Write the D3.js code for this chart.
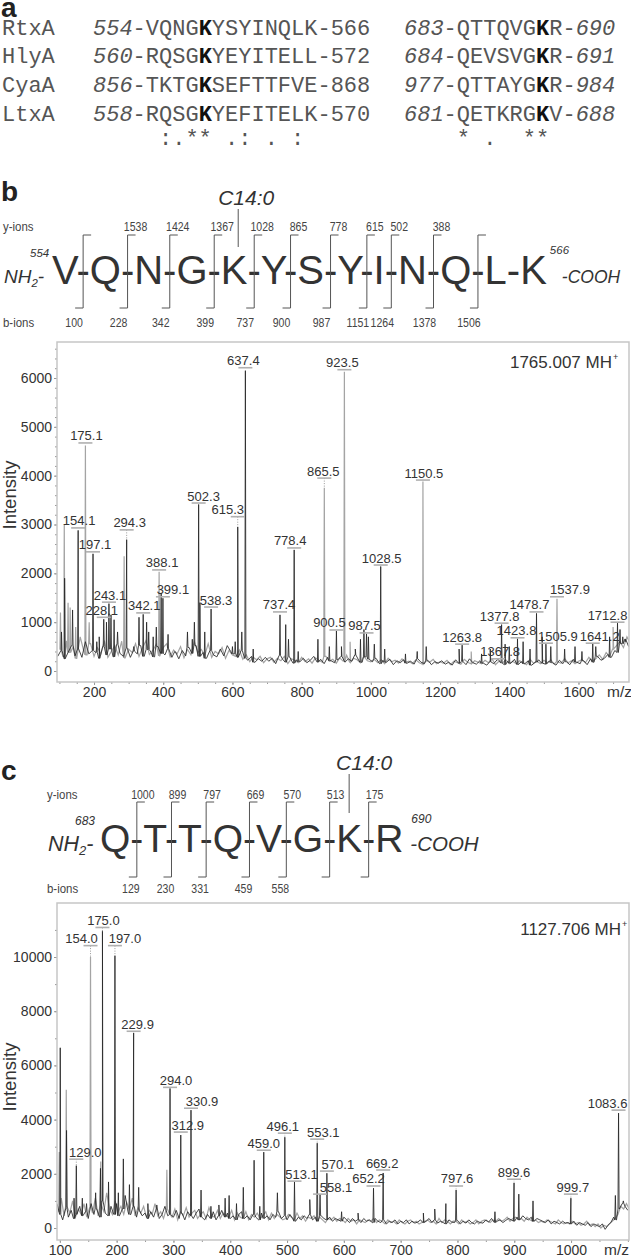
<!DOCTYPE html>
<meta charset="utf-8">
<style>
  body { margin: 0; background: #fff; }
</style>
<script src="https://d3js.org/d3.v7.min.js"></script>
<svg id="fig" width="631" height="1259" font-family="'Liberation Sans', Arial, sans-serif"></svg>
<script>

// ---- panel a : alignment ----
var proteins   = ["RtxA", "HlyA", "CyaA", "LtxA"];
var site1Start = [554, 560, 856, 558];
var site1Seq   = ["VQNGKYSYINQLK", "RQSGKYEYITELL", "TKTGKSEFTTFVE", "RQSGKYEFITELK"];
var site1End   = [566, 572, 868, 570];
var site2Start = [683, 684, 977, 681];
var site2Seq   = ["QTTQVGKR", "QEVSVGKR", "QTTAYGKR", "QETKRGKV"];
var site2End   = [690, 691, 984, 688];
var site1K = 4, site2K = 6;
var consensus1 = " :.** .: . :";
var consensus2 = "* .  **";

// ---- panel b : peptide 554-566 ----
var residuesB = ["V", "Q", "N", "G", "K", "Y", "S", "Y", "I", "N", "Q", "L", "K"];
var yIonsB = [null, 1538, 1424, 1367, 1028, 865, 778, 615, 502, 388, null];
var bIonsB = [100, 228, 342, 399, 737, 900, 987, 1151, 1264, 1378, 1506];

// spectrum b: [m/z, intensity, tone] tone 0 = dark trace, 1 = grey trace
var peaksB = [
  [103, 1200, 1], [106, 800, 0], [114, 3000, 1], [115, 1900, 0], [125, 1400, 1], [131, 1300, 1],
  [138, 1250, 0], [147, 900, 1], [154.1, 2880, 0], [175.1, 4620, 1], [186, 1000, 1], [197.1, 2400, 0],
  [208, 600, 0], [215, 700, 0], [228.1, 1060, 0], [236, 1000, 0], [243.1, 1380, 0], [249, 1150, 0],
  [258, 1050, 0], [268, 800, 0], [287, 2350, 1], [294.3, 2690, 0], [315, 500, 0], [330, 1100, 0],
  [342.1, 1160, 0], [352, 1000, 0], [358, 800, 0], [371, 700, 0], [380, 900, 0], [388.1, 2030, 1],
  [394, 1600, 0], [399.1, 1490, 0], [414, 750, 0], [434, 400, 0], [470, 800, 0], [484, 650, 0],
  [490, 1000, 0], [502.3, 3410, 0], [506, 1400, 0], [520, 800, 0], [538.3, 1270, 0], [600, 500, 0],
  [608, 600, 0], [615.3, 2950, 0], [627, 800, 0], [637.4, 6150, 0], [660, 450, 0], [737.4, 1150, 0],
  [754, 950, 0], [762, 650, 0], [778.4, 2480, 0], [790, 400, 0], [847, 650, 0], [865.5, 3750, 1],
  [880, 500, 0], [900.5, 820, 0], [915, 500, 0], [923.5, 6130, 1], [940, 600, 1], [955, 450, 0],
  [970, 650, 0], [980, 850, 0], [987.5, 760, 0], [993, 700, 0], [1010, 550, 0], [1028.5, 2140, 0],
  [1040, 450, 0], [1100, 350, 0], [1134, 400, 0], [1150.5, 3880, 1], [1160, 500, 0], [1255, 450, 0],
  [1263.8, 530, 0], [1290, 400, 1], [1320, 350, 0], [1345, 450, 0], [1367.8, 240, 0], [1377.8, 950, 0],
  [1388, 550, 0], [1400, 500, 0], [1423.8, 660, 0], [1440, 600, 0], [1460, 450, 0], [1478.7, 1180, 0],
  [1495, 700, 0], [1505.9, 550, 0], [1520, 500, 0], [1537.9, 1480, 1], [1560, 450, 0], [1590, 500, 0],
  [1610, 400, 0], [1641.2, 560, 0], [1650, 500, 0], [1690, 700, 0], [1700, 900, 1], [1712.8, 980, 0],
  [1720, 850, 0], [1728, 700, 0], [1735, 600, 0]
];
// labelled peaks: [m/z, label level, label shift px]
var labelsB = [
  [154.1, 2930, 1], [175.1, 4670, 1], [197.1, 2440, 2], [228.1, 1100, -2], [243.1, 1410, 1],
  [294.3, 2890, 3], [342.1, 1190, 1], [388.1, 2070, 3], [399.1, 1520, 10], [502.3, 3440, 5],
  [538.3, 1310, 5], [615.3, 3160, -10], [637.4, 6210, -2], [737.4, 1210, -1], [778.4, 2520, -4],
  [865.5, 3950, -1], [900.5, 840, -7], [923.5, 6170, -2], [987.5, 780, -2], [1028.5, 2170, 1],
  [1150.5, 3910, 1], [1263.8, 550, 0], [1367.8, 250, 2], [1377.8, 980, -2], [1423.8, 680, -1],
  [1478.7, 1210, -7], [1505.9, 570, 12], [1537.9, 1520, 13], [1641.2, 570, 7], [1712.8, 1000, -10]
];
// baseline noise b, dark trace m/z 95..1745 every 10
var noiseB = [
  300, 420, 250, 380, 520, 310, 450, 280, 600, 350, 420,
  380, 260, 500, 330, 450, 290, 540, 360, 300, 470,
  280, 410, 350, 520, 300, 440, 380, 290, 500, 360,
  330, 460, 280, 390, 250, 420, 310, 480, 360, 520,
  300, 380, 260, 420, 330, 290, 450, 310, 520, 400,
  350, 280, 420, 260, 220, 300, 180, 250, 200, 280,
  200, 260, 150, 320, 240, 180, 290, 160, 230, 190,
  260, 170, 220, 300, 180, 240, 150, 280, 210, 170,
  230, 300, 180, 250, 200, 330, 220, 180, 290, 240,
  190, 260, 150, 220, 180, 240, 130, 210, 170, 230,
  160, 200, 140, 250, 180, 150, 220, 130, 190, 160,
  210, 140, 180, 120, 230, 160, 200, 130, 250, 170,
  140, 210, 160, 120, 190, 150, 230, 170, 130, 200,
  160, 240, 130, 190, 150, 210, 120, 180, 230, 160,
  140, 200, 170, 120, 220, 150, 190, 130, 240, 180,
  150, 210, 130, 250, 180, 300, 220, 260, 340, 280,
  420, 380, 560, 650, 500
];
// baseline noise b, grey trace m/z 100..1750 every 10
var noiseB2 = [
  450, 300, 620, 380, 500, 260, 700, 420, 330, 560, 300,
  480, 350, 620, 280, 400, 520, 330, 610, 270, 450,
  380, 560, 300, 470, 620, 340, 420, 550, 310, 480,
  560, 290, 430, 350, 500, 270, 440, 330, 600, 380,
  440, 320, 560, 280, 400, 350, 480, 260, 420, 330,
  300, 430, 240, 330, 190, 280, 230, 300, 170, 250,
  280, 180, 260, 210, 300, 150, 250, 220, 170, 280,
  190, 250, 160, 270, 220, 180, 300, 200, 240, 160,
  270, 200, 320, 180, 260, 230, 170, 300, 210, 190,
  240, 170, 230, 150, 260, 190, 220, 160, 250, 180,
  200, 150, 230, 170, 140, 210, 180, 240, 150, 190,
  160, 220, 130, 200, 170, 140, 240, 180, 150, 210,
  180, 150, 220, 170, 250, 130, 200, 160, 230, 150,
  200, 150, 210, 170, 130, 240, 160, 200, 150, 220,
  170, 230, 140, 190, 160, 250, 170, 210, 150, 200,
  230, 170, 280, 200, 250, 330, 240, 380, 300, 450,
  520, 600, 480, 700, 560
];
var yTicksB = [0, 1000, 2000, 3000, 4000, 5000, 6000];
var xTicksB = [200, 400, 600, 800, 1000, 1200, 1400, 1600];

// ---- panel c : peptide 683-690 ----
var residuesC = ["Q", "T", "T", "Q", "V", "G", "K", "R"];
var yIonsC = [1000, 899, 797, 669, 570, 513, 175];
var bIonsC = [129, 230, 331, 459, 558, null, null];

var peaksC = [
  [99, 2800, 1], [100.7, 6650, 0], [111.3, 5100, 1], [111.8, 3600, 0], [125, 1100, 0], [129.0, 2300, 0],
  [139.6, 1100, 0], [147, 900, 0], [154.0, 10000, 1], [163, 1300, 0], [171.5, 2200, 0], [172, 2450, 1],
  [175.0, 10950, 0], [185.7, 1700, 0], [197.0, 10050, 0], [203, 1300, 0], [211.8, 2550, 0], [222.5, 1600, 0],
  [229.9, 7200, 0], [238.8, 1500, 0], [255, 900, 0], [270.7, 850, 0], [288.4, 2150, 1], [294.0, 5150, 0],
  [312.9, 3430, 0], [330.9, 4350, 0], [348.6, 1400, 0], [366, 800, 0], [380, 850, 0], [391, 1100, 0],
  [398, 1200, 0], [411, 900, 0], [423, 1500, 0], [442, 2500, 0], [452, 800, 0], [459.0, 2800, 0],
  [483, 1300, 0], [496.1, 3350, 0], [513.1, 1700, 0], [540, 1050, 0], [553.1, 3130, 0], [558.1, 1250, 0],
  [570.1, 2020, 0], [596, 600, 0], [625, 550, 0], [652.2, 1470, 0], [669.2, 2030, 0], [740, 550, 0],
  [760, 700, 0], [779.6, 900, 0], [797.6, 1400, 0], [866, 600, 0], [899.6, 1660, 0], [908, 1250, 0],
  [933, 1000, 0], [999.7, 1100, 0], [1078, 1200, 0], [1083.6, 4240, 0], [1092, 1000, 0]
];
var labelsC = [
  [129.0, 2540, 9], [154.0, 10420, -9], [175.0, 11090, 1], [197.0, 10420, 10], [229.9, 7260, 4],
  [294.0, 5190, 6], [312.9, 3540, 7], [330.9, 4420, 11], [459.0, 2870, 0], [496.1, 3500, -2],
  [513.1, 1730, 7], [553.1, 3280, 6], [558.1, 1250, 16], [570.1, 2100, 11], [652.2, 1550, -5],
  [669.2, 2140, -1], [797.6, 1550, 1], [899.6, 1800, 0], [999.7, 1250, 2], [1083.6, 4350, -11]
];
// baseline noise c, dark trace m/z 95..1100 every 5
var noiseC = [
  900, 500, 300, 700, 400, 650, 350, 500, 800, 450,
  600, 350, 900, 500, 700, 400, 1000, 550, 450, 800,
  500, 900, 450, 700, 1200, 600, 500, 800, 400, 650,
  450, 550, 350, 600, 400, 700, 350, 500, 800, 450,
  500, 400, 650, 350, 550, 300, 600, 450, 350, 550,
  700, 400, 300, 500, 350, 600, 300, 450, 650, 400,
  550, 350, 450, 300, 500, 600, 350, 450, 300, 500,
  400, 300, 550, 350, 450, 300, 500, 400, 600, 350,
  450, 300, 500, 350, 250, 400, 300, 450, 350, 500,
  300, 400, 250, 450, 350, 300, 400, 250, 350, 300,
  250, 400, 300, 200, 350, 250, 300, 200, 350, 250,
  300, 200, 350, 250, 200, 300, 150, 250, 200, 300,
  150, 250, 200, 300, 150, 250, 180, 220, 300, 200,
  250, 350, 200, 300, 180, 250, 200, 150, 300, 220,
  200, 280, 150, 250, 180, 300, 200, 150, 250, 200,
  180, 300, 220, 350, 200, 250, 300, 200, 280, 350,
  300, 250, 400, 300, 450, 350, 300, 400, 250, 350,
  300, 250, 200, 300, 150, 250, 200, 150, 250, 180,
  200, 150, 250, 100, 200, 150, 100, 200, 50, 150,
  100, 50, 150, -50, 100, 200, 400, 300, 700, 900,
  800, 650
];
// baseline noise c, grey trace m/z 97.5..1102.5 every 5
var noiseC2 = [
  600, 1100, 450, 800, 550, 1000, 400, 700, 500, 900,
  400, 750, 550, 1100, 450, 850, 600, 1300, 700, 500,
  1000, 600, 800, 500, 950, 700, 1100, 450, 750, 550,
  800, 400, 650, 500, 900, 450, 600, 350, 700, 550,
  400, 700, 300, 600, 450, 750, 400, 550, 650, 350,
  500, 600, 350, 750, 450, 400, 650, 350, 550, 450,
  400, 650, 300, 550, 400, 350, 600, 300, 500, 400,
  550, 350, 450, 600, 300, 550, 350, 500, 400, 300,
  350, 500, 400, 300, 550, 350, 450, 250, 400, 350,
  450, 250, 400, 300, 200, 350, 300, 400, 250, 350,
  300, 200, 350, 250, 300, 150, 300, 250, 200, 300,
  250, 350, 200, 300, 250, 150, 300, 200, 250, 150,
  300, 200, 150, 250, 300, 200, 250, 150, 200, 250,
  300, 200, 250, 150, 350, 200, 300, 250, 150, 250,
  250, 150, 300, 200, 250, 150, 200, 300, 150, 250,
  300, 250, 200, 300, 250, 350, 250, 300, 400, 250,
  350, 400, 300, 350, 250, 400, 300, 250, 300, 200,
  250, 200, 300, 250, 200, 150, 300, 200, 150, 200,
  150, 250, 150, 200, 100, 150, 250, 100, 150, 50,
  150, 0, 100, 50, 150, 250, 350, 500, 800, 700,
  900, 700
];
var yTicksC = [0, 2000, 4000, 6000, 8000, 10000];
var xTicksC = [100, 200, 300, 400, 500, 600, 700, 800, 900, 1000];

var svg = d3.select("#fig");
var ink = "#333";

function panelLetter(txt, y) {
  svg.append("text").attr("x", 1).attr("y", y).attr("font-size", 28)
    .attr("font-weight", "bold").attr("fill", "#222").text(txt);
}

// ================= panel a =================
panelLetter("a", 17);
var rowY = [35, 63, 92, 121];
var gA = svg.append("g")
  .attr("font-family", "'Liberation Mono', 'Courier New', monospace")
  .attr("font-size", 22).attr("fill", "#555");

proteins.forEach(function(name, i) {
  gA.append("text").attr("x", 2).attr("y", rowY[i]).text(name);

  var s = site1Seq[i];
  var t1 = gA.append("text").attr("x", 93).attr("y", rowY[i]);
  t1.append("tspan").attr("font-style", "italic").text(site1Start[i]);
  t1.append("tspan").text("-" + s.slice(0, site1K));
  t1.append("tspan").attr("font-weight", "bold").attr("fill", "#111").text(s[site1K]);
  t1.append("tspan").text(s.slice(site1K + 1) + "-" + site1End[i]);

  var r = site2Seq[i];
  var t2 = gA.append("text").attr("x", 404).attr("y", rowY[i]);
  t2.append("tspan").attr("font-style", "italic").text(site2Start[i]);
  t2.append("tspan").text("-" + r.slice(0, site2K));
  t2.append("tspan").attr("font-weight", "bold").attr("fill", "#111").text(r[site2K]);
  t2.append("tspan").text(r.slice(site2K + 1) + "-");
  t2.append("tspan").attr("font-style", "italic").text(site2End[i]);
});
gA.append("text").attr("x", 93).attr("y", 145).style("white-space", "pre").text("    " + consensus1);
gA.append("text").attr("x", 404).attr("y", 145).style("white-space", "pre").text("    " + consensus2);

// ================= peptide maps =================
function ionText(g, x, y, v) {
  g.append("text").attr("transform", "translate(" + x + "," + y + ") scale(0.78,1)")
    .attr("font-size", 13.5).attr("text-anchor", "middle").attr("fill", "#444").text(v);
}

function drawPeptide(p) {
  var g = svg.append("g").attr("fill", ink);
  var t = g.append("text").attr("x", p.x).attr("y", p.base)
    .attr("font-size", p.size).text(p.residues.join("-"));
  var node = t.node();
  function centre(k) { var e = node.getExtentOfChar(k); return e.x + e.width / 2; }

  // N terminus
  var nt = g.append("text").attr("x", p.ntX).attr("y", p.base - 1)
    .attr("font-size", p.endSize).attr("font-style", "italic");
  nt.append("tspan").text("NH");
  nt.append("tspan").attr("font-size", p.endSize * 0.6).attr("dy", 4).text("2");
  nt.append("tspan").attr("dy", -4).text("-");
  g.append("text").attr("x", p.startNumX).attr("y", p.base - p.size * 0.68)
    .attr("font-size", p.numSize).attr("font-style", "italic").text(p.startNum);

  // C terminus
  var last = node.getExtentOfChar(p.residues.length * 2 - 2);
  g.append("text").attr("x", last.x + last.width + p.endNumGap).attr("y", p.base - p.size * 0.75)
    .attr("font-size", p.numSize).attr("font-style", "italic").text(p.endNum);
  g.append("text").attr("x", last.x + last.width + p.ctGap).attr("y", p.base - 1)
    .attr("font-size", p.ctSize).attr("font-style", "italic").text("-COOH");

  // fragmentation brackets
  var hook = 8;
  p.yIons.forEach(function(yv, j) {
    var bx = centre(2 * j + 1);
    g.append("path")
      .attr("d", "M" + (bx + hook) + "," + p.top + "H" + bx + "V" + p.bottom + "H" + (bx - hook))
      .attr("fill", "none").attr("stroke", "#555").attr("stroke-width", 1);
    if (yv != null) ionText(g, bx + p.yShift, p.yBase, yv);
    var bv = p.bIons[j];
    if (bv != null) ionText(g, bx + p.bShift, p.bBase, bv);
  });
  g.append("text").attr("transform", "translate(" + (3 + p.ionX) + "," + p.yBase + ") scale(0.88,1)")
    .attr("font-size", 13).attr("fill", "#444").text("y-ions");
  g.append("text").attr("transform", "translate(" + (3 + p.ionX) + "," + p.bBase + ") scale(0.88,1)")
    .attr("font-size", 13).attr("fill", "#444").text("b-ions");

  // acylation site
  var kx = centre(p.acyl * 2) + p.acylShift;
  g.append("line").attr("x1", kx).attr("x2", kx).attr("y1", p.acylTop).attr("y2", p.acylBottom)
    .attr("stroke", "#555").attr("stroke-width", 1);
  g.append("text").attr("x", kx + p.acylLabelShift).attr("y", p.acylTop - 4)
    .attr("font-size", 21).attr("font-style", "italic").attr("text-anchor", "middle").text("C14:0");
}

// ================= spectra =================
function drawSpectrum(o) {
  var x = d3.scaleLinear().domain(o.xDomain).range([57, 629]);
  var y = d3.scaleLinear().domain(o.yDomain).range([o.bottom, o.top]);
  var g = svg.append("g");

  svg.append("clipPath").attr("id", o.id).append("rect")
    .attr("x", 57).attr("y", o.top).attr("width", 572).attr("height", o.bottom - o.top);

  // one trace per tone: its own baseline noise plus its peaks
  function trace(tone, noise, start) {
    var pts = noise.map(function(v, i) { return [start + i * o.noiseStep, v]; });
    o.peaks.filter(function(p) { return p[2] === tone; }).forEach(function(p) {
      var i = Math.max(0, Math.min(noise.length - 1, Math.round((p[0] - start) / o.noiseStep)));
      pts.push([p[0] - o.footW, noise[i]], [p[0], p[1]], [p[0] + o.footW, noise[i]]);
    });
    return pts.sort(function(a, b) { return a[0] - b[0]; });
  }
  var line = d3.line().x(function(d) { return x(d[0]); }).y(function(d) { return y(d[1]); });
  var gp = g.append("g").attr("clip-path", "url(#" + o.id + ")");
  gp.append("path").attr("d", line(trace(1, o.noise2, o.noiseStart2))).attr("fill", "none")
    .attr("stroke", "#a4a4a4").attr("stroke-width", 1.2);
  gp.append("path").attr("d", line(trace(0, o.noise, o.noiseStart))).attr("fill", "none")
    .attr("stroke", "#262626").attr("stroke-width", 0.85);

  // peak labels
  o.labels.forEach(function(l) {
    var px = x(l[0]), by = y(l[1]);
    var pk = o.peaks.find(function(p) { return p[0] === l[0]; });
    if (pk && y(pk[1]) - by > 3) {
      g.append("line").attr("x1", px).attr("x2", px).attr("y1", by).attr("y2", y(pk[1]))
        .attr("stroke", "#999").attr("stroke-width", 1).attr("stroke-dasharray", "1,1.5");
    }
    g.append("line").attr("x1", px - 7).attr("x2", px + 7).attr("y1", by).attr("y2", by)
      .attr("stroke", "#b0b0b0").attr("stroke-width", 1.6);
    g.append("text").attr("x", px + l[2]).attr("y", by - 2.5).attr("font-size", 13)
      .attr("text-anchor", "middle").attr("fill", ink).text(l[0].toFixed(1));
  });

  // axes
  var ya = g.append("g").attr("transform", "translate(57,0)")
    .call(d3.axisLeft(y).tickValues(o.yTicks).tickSize(3).tickPadding(2).tickFormat(d3.format("d")));
  var yMinor = g.append("g").attr("transform", "translate(57,0)")
    .call(d3.axisLeft(y).tickValues(o.yMinor).tickSize(2).tickFormat(""));
  var xa = g.append("g").attr("transform", "translate(0," + o.bottom + ")")
    .call(d3.axisBottom(x).tickValues(o.xTicks).tickSize(3).tickPadding(2).tickFormat(d3.format("d")));
  var xMinor = g.append("g").attr("transform", "translate(0," + o.bottom + ")")
    .call(d3.axisBottom(x).tickValues(o.xMinor).tickSize(2).tickFormat(""));
  [ya, yMinor, xa, xMinor].forEach(function(a) {
    a.select(".domain").remove();
    a.selectAll("line").attr("stroke", "#999");
    a.selectAll("text").attr("font-size", 14).attr("fill", ink)
      .attr("font-family", "'Liberation Sans', Arial, sans-serif");
  });

  g.append("rect").attr("x", 57).attr("y", o.top).attr("width", 572).attr("height", o.bottom - o.top)
    .attr("fill", "none").attr("stroke", "#c6c6c6").attr("stroke-width", 1.5);

  g.append("text").attr("transform", "translate(15.5," + o.intensityY + ") rotate(-90)")
    .attr("text-anchor", "middle").attr("font-size", 18.5).attr("fill", ink).text("Intensity");
  g.append("text").attr("x", o.mzX).attr("y", o.bottom + 15).attr("font-size", 15.5)
    .attr("fill", ink).text("m/z");
  g.append("text").attr("x", o.mhX).attr("y", o.mhY).attr("text-anchor", "end")
    .attr("font-size", 17).attr("fill", ink).text(o.mh + " MH");
  g.append("text").attr("x", o.mhX + 1).attr("y", o.mhY - 8).attr("font-size", 9)
    .attr("fill", ink).text("+");
}

// ================= panel b =================
panelLetter("b", 201);
drawPeptide({
  residues: residuesB, x: 52, base: 284, size: 40, top: 235, bottom: 308,
  yIons: yIonsB, bIons: bIonsB, yBase: 231, bBase: 327, yShift: 8, bShift: -9, ionX: 0,
  ntX: 4, endSize: 19, startNum: 554, startNumX: 30, numSize: 11.5,
  endNum: 566, endNumGap: 3, ctGap: 15, ctSize: 17.5,
  acyl: 4, acylShift: 4, acylLabelShift: 8, acylTop: 209, acylBottom: 247
});
drawSpectrum({
  id: "clipB", xDomain: [93, 1746], yDomain: [-225, 6737], top: 342, bottom: 682,
  peaks: peaksB, labels: labelsB, noise: noiseB, noiseStart: 95, noise2: noiseB2, noiseStart2: 100,
  noiseStep: 10, footW: 1.5,
  yTicks: yTicksB, yMinor: d3.range(0, 6700, 200), xTicks: xTicksB, xMinor: d3.range(100, 1746, 50),
  intensityY: 495, mzX: 607, mh: "1765.007", mhX: 612, mhY: 368
});

// ================= panel c =================
panelLetter("c", 780);
drawPeptide({
  residues: residuesC, x: 100, base: 852, size: 39, top: 802, bottom: 877,
  yIons: yIonsC, bIons: bIonsC, yBase: 799, bBase: 893, yShift: 6, bShift: -6, ionX: 44,
  ntX: 48, endSize: 21.5, startNum: 683, startNumX: 75, numSize: 12,
  endNum: 690, endNumGap: 8, ctGap: 7, ctSize: 20.5,
  acyl: 6, acylShift: 0, acylLabelShift: 15, acylTop: 774, acylBottom: 813
});
drawSpectrum({
  id: "clipC", xDomain: [95, 1102], yDomain: [-443, 11993], top: 903, bottom: 1240,
  peaks: peaksC, labels: labelsC, noise: noiseC, noiseStart: 95, noise2: noiseC2, noiseStart2: 97.5,
  noiseStep: 5, footW: 1,
  yTicks: yTicksC, yMinor: d3.range(0, 12000, 1000), xTicks: xTicksC, xMinor: d3.range(100, 1101, 50),
  intensityY: 1077, mzX: 604, mh: "1127.706", mhX: 621, mhY: 935
});

</script>
